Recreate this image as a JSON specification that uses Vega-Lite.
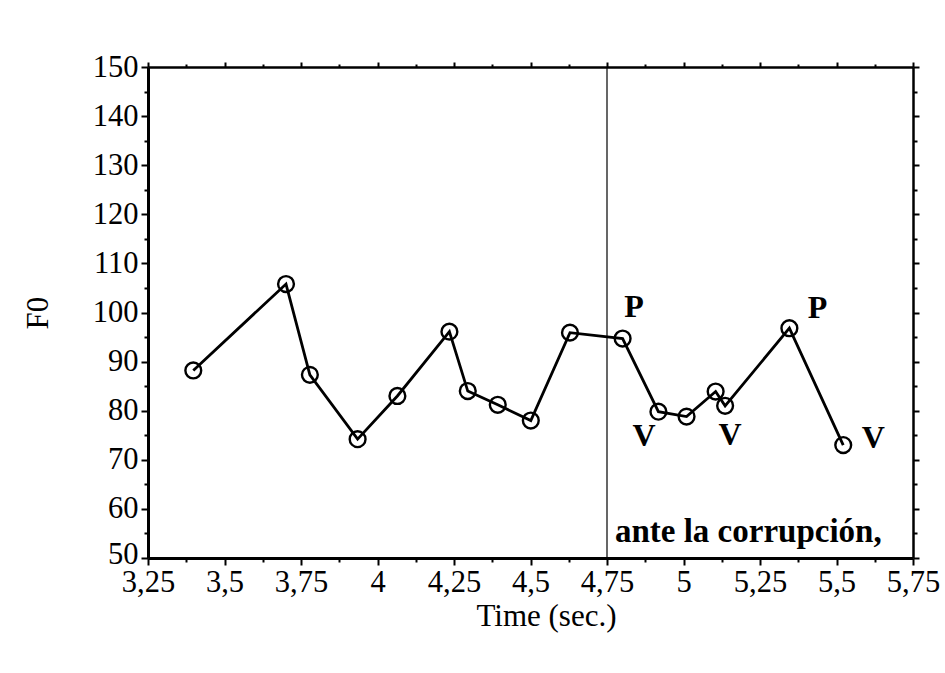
{
  "$schema": "https://vega.github.io/schema/vega-lite/v6.json",
  "width": 765,
  "height": 491,
  "autosize": {"type": "none"},
  "padding": {"left": 148, "top": 67, "right": 32, "bottom": 115},
  "background": "white",
  "config": {
    "view": {"stroke": null},
    "font": "Liberation Serif",
    "axis": {
      "domainColor": "black",
      "tickColor": "black",
      "labelColor": "black",
      "titleColor": "black",
      "labelFont": "Liberation Serif",
      "titleFont": "Liberation Serif",
      "titleFontWeight": "normal",
      "labelFontSize": 30.5,
      "titleFontSize": 31,
      "grid": false
    }
  },
  "datasets": {
    "f0": [
      {"t": 3.398, "f0": 88.2},
      {"t": 3.701, "f0": 105.8},
      {"t": 3.779, "f0": 87.3},
      {"t": 3.935, "f0": 74.2},
      {"t": 4.065, "f0": 83.0},
      {"t": 4.235, "f0": 96.1},
      {"t": 4.295, "f0": 84.0},
      {"t": 4.393, "f0": 81.2},
      {"t": 4.501, "f0": 78.0},
      {"t": 4.629, "f0": 95.9},
      {"t": 4.801, "f0": 94.7},
      {"t": 4.918, "f0": 79.8},
      {"t": 5.010, "f0": 78.8},
      {"t": 5.105, "f0": 83.9},
      {"t": 5.136, "f0": 81.0},
      {"t": 5.346, "f0": 96.8},
      {"t": 5.522, "f0": 73.0}
    ],
    "marks": [
      {"t": 4.838, "f0": 101.1, "label": "P"},
      {"t": 4.871, "f0": 74.8, "label": "V"},
      {"t": 5.152, "f0": 75.0, "label": "V"},
      {"t": 5.438, "f0": 101.0, "label": "P"},
      {"t": 5.620, "f0": 74.4, "label": "V"}
    ],
    "boundary": [{"t": 4.75}],
    "phrase": [{"t": 4.776, "f0": 53.3, "label": "ante la corrupción,"}]
  },
  "resolve": {"axis": {"x": "independent", "y": "independent"}},
  "layer": [
    {
      "data": {"name": "boundary"},
      "mark": {"type": "rule", "color": "black", "strokeWidth": 1.2},
      "encoding": {
        "x": {"field": "t", "type": "quantitative", "axis": null,
              "scale": {"domain": [3.25, 5.75], "nice": false, "zero": false}}
      }
    },
    {
      "data": {"name": "f0"},
      "mark": {"type": "line", "color": "black", "strokeWidth": 2.8},
      "encoding": {
        "x": {
          "field": "t", "type": "quantitative",
          "scale": {"domain": [3.25, 5.75], "nice": false, "zero": false},
          "axis": {
            "orient": "bottom",
            "title": "Time (sec.)",
            "values": [3.25, 3.375, 3.5, 3.625, 3.75, 3.875, 4, 4.125, 4.25, 4.375, 4.5, 4.625, 4.75, 4.875, 5, 5.125, 5.25, 5.375, 5.5, 5.625, 5.75],
            "labelExpr": "abs(datum.value*4 - round(datum.value*4)) < 0.01 ? replace(format(datum.value, ''), '.', ',') : ''",
            "domainWidth": 3,
            "tickWidth": 2,
            "tickSize": {"condition": {"test": "abs(datum.value*4 - round(datum.value*4)) < 0.01", "value": 7}, "value": 4},
            "labelPadding": 2,
            "labelFlush": false,
            "labelOverlap": false,
            "titlePadding": 4,
            "titleX": 398
          }
        },
        "y": {
          "field": "f0", "type": "quantitative",
          "scale": {"domain": [50, 150], "nice": false, "zero": false},
          "axis": {
            "orient": "left",
            "title": "F0",
            "values": [50, 55, 60, 65, 70, 75, 80, 85, 90, 95, 100, 105, 110, 115, 120, 125, 130, 135, 140, 145, 150],
            "labelExpr": "datum.value % 10 == 0 ? datum.value : ''",
            "labelBaseline": "middle",
            "labelOffset": {"condition": {"test": "datum.value == 50", "value": -4}, "value": 0},
            "domainWidth": 3,
            "tickWidth": 2,
            "tickSize": {"condition": {"test": "datum.value % 10 == 0", "value": 7}, "value": 4},
            "labelPadding": 3,
            "labelFlush": false,
            "labelOverlap": false,
            "titlePadding": 38
          }
        }
      }
    },
    {
      "data": {"name": "f0"},
      "mark": {"type": "point", "filled": false, "color": "black", "strokeWidth": 2.4, "size": 250, "opacity": 1},
      "encoding": {
        "x": {
          "field": "t", "type": "quantitative",
          "axis": {
            "orient": "top",
            "title": null,
            "labels": false,
            "values": [3.25, 3.375, 3.5, 3.625, 3.75, 3.875, 4, 4.125, 4.25, 4.375, 4.5, 4.625, 4.75, 4.875, 5, 5.125, 5.25, 5.375, 5.5, 5.625, 5.75],
            "domainWidth": 2.5,
            "tickWidth": 2,
            "tickSize": {"condition": {"test": "abs(datum.value*4 - round(datum.value*4)) < 0.01", "value": 5}, "value": 3}
          }
        },
        "y": {
          "field": "f0", "type": "quantitative",
          "axis": {
            "orient": "right",
            "title": null,
            "labels": false,
            "values": [50, 55, 60, 65, 70, 75, 80, 85, 90, 95, 100, 105, 110, 115, 120, 125, 130, 135, 140, 145, 150],
            "domainWidth": 2.5,
            "tickWidth": 2,
            "tickSize": {"condition": {"test": "datum.value % 10 == 0", "value": 6}, "value": 4}
          }
        }
      }
    },
    {
      "data": {"name": "marks"},
      "mark": {"type": "text", "font": "Liberation Serif", "fontWeight": "bold", "fontSize": 32, "align": "center", "baseline": "middle", "color": "black"},
      "encoding": {
        "x": {"field": "t", "type": "quantitative", "axis": null},
        "y": {"field": "f0", "type": "quantitative", "axis": null},
        "text": {"field": "label"}
      }
    },
    {
      "data": {"name": "phrase"},
      "mark": {"type": "text", "font": "Liberation Serif", "fontWeight": "bold", "fontSize": 33, "align": "left", "baseline": "alphabetic", "color": "black"},
      "encoding": {
        "x": {"field": "t", "type": "quantitative", "axis": null},
        "y": {"field": "f0", "type": "quantitative", "axis": null},
        "text": {"field": "label"}
      }
    }
  ]
}
